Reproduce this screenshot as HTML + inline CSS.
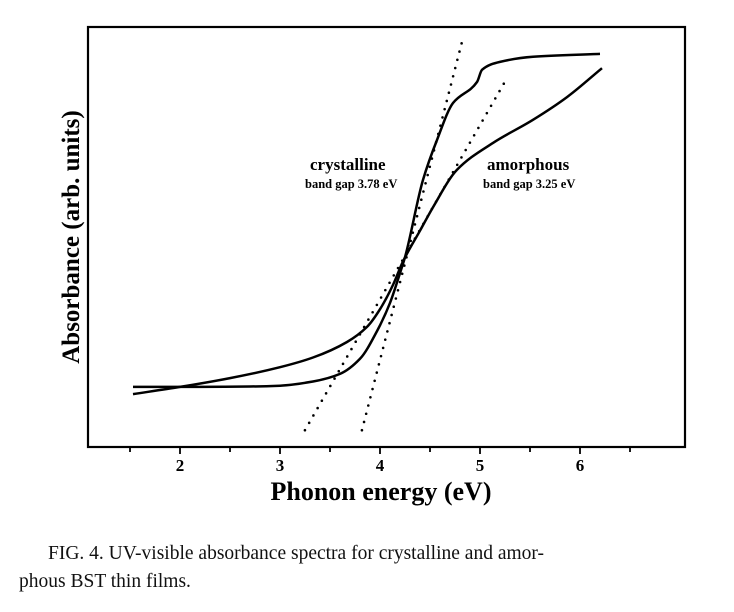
<!DOCTYPE html>
<html><head><meta charset="utf-8">
<style>
body{margin:0;background:#fff;width:734px;height:612px;overflow:hidden;}
svg{display:block}
.cap{position:absolute;font-family:"Liberation Serif",serif;font-size:19.5px;color:#111;}
</style></head>
<body>
<svg id="chart" width="734" height="612" viewBox="0 0 734 612" xmlns="http://www.w3.org/2000/svg">
<rect x="88" y="27" width="597" height="420" fill="none" stroke="#000" stroke-width="2.2"/>
<g id="ticks"></g>
<g id="series"></g>
<text transform="translate(79,237) rotate(-90)" text-anchor="middle" font-family="Liberation Serif,serif" font-weight="bold" font-size="25">Absorbance (arb. units)</text>
<text x="381" y="500" text-anchor="middle" font-family="Liberation Serif,serif" font-weight="bold" font-size="26">Phonon energy (eV)</text>
<text x="310" y="170" font-family="Liberation Serif,serif" font-weight="bold" font-size="17">crystalline</text>
<text x="305" y="188" font-family="Liberation Serif,serif" font-weight="bold" font-size="12.5">band gap 3.78 eV</text>
<text x="487" y="170" font-family="Liberation Serif,serif" font-weight="bold" font-size="17">amorphous</text>
<text x="483" y="188" font-family="Liberation Serif,serif" font-weight="bold" font-size="12.5">band gap 3.25 eV</text>
</svg>
<div class="cap" style="left:48px;top:543px;">FIG. 4. UV-visible absorbance spectra for crystalline and amor-</div>
<div class="cap" style="left:19px;top:571px;">phous BST thin films.</div>
<script>
const tickValues=[1.5,2,2.5,3,3.5,4,4.5,5,5.5,6,6.5];
const tickLabels=["2","3","4","5","6"];
const crystX=[1.53,2.2,2.7,3.0,3.33,3.6,3.8,3.97,4.1,4.2,4.25,4.43,4.57,4.73,4.97,5.02,5.2,5.53,6.2];
const crystY=[14.3,14.3,14.4,14.6,15.6,17.4,21.0,27.6,34.3,41.4,45.2,63.6,73.1,81.9,86.9,89.8,91.7,92.9,93.6];
const amorX=[1.53,2.0,2.5,3.0,3.33,3.67,3.87,4.0,4.13,4.23,4.4,4.53,4.77,5.13,5.53,5.87,6.22];
const amorY=[12.6,14.3,16.4,19,21.3,25.0,28.6,32.8,38.6,44.2,51.5,57.1,66,72.4,77.9,83.3,90.2];
const crystFitX=[3.776,4.83];
const crystFitY=[0,97.4];
const amorFitX=[3.153,5.24];
const amorFitY=[0,86.6];
const NS="http://www.w3.org/2000/svg";
function sx(v){return 180+(v-2)*100;}
function sy(v){return 447-v*4.2;}
const tg=document.getElementById('ticks');
tickValues.forEach(v=>{
  const l=document.createElementNS(NS,'line');
  
  
  const major=Number.isInteger(v);
  l.setAttribute('x1',sx(v));l.setAttribute('x2',sx(v));
  l.setAttribute('y1',447);l.setAttribute('y2',447+(major?7:5));
  l.setAttribute('stroke','#000');l.setAttribute('stroke-width','1.8');
  tg.appendChild(l);
});
tickLabels.forEach(s=>{
  const t=document.createElementNS(NS,'text');
  
  
  t.setAttribute('x',sx(parseFloat(s)));t.setAttribute('y',471);
  t.setAttribute('text-anchor','middle');t.setAttribute('font-family','Liberation Serif,serif');
  t.setAttribute('font-weight','bold');t.setAttribute('font-size','17');
  t.textContent=s;tg.appendChild(t);
});
// monotone cubic (Fritsch-Carlson) in pixel space
function smooth(xs,ys){
  const X=xs.map(sx),Y=ys.map(sy),n=X.length;
  const d=[],m=[];
  for(let i=0;i<n-1;i++)d.push((Y[i+1]-Y[i])/(X[i+1]-X[i]));
  m[0]=d[0];m[n-1]=d[n-2];
  for(let i=1;i<n-1;i++){
    if(d[i-1]*d[i]<=0)m[i]=0;
    else{const h0=X[i]-X[i-1],h1=X[i+1]-X[i];const w1=2*h1+h0,w2=h1+2*h0;m[i]=(w1+w2)/(w1/d[i-1]+w2/d[i]);}
  }
  let p='M'+X[0].toFixed(1)+','+Y[0].toFixed(1);
  for(let i=0;i<n-1;i++){
    const h=(X[i+1]-X[i])/3;
    p+=' C'+(X[i]+h).toFixed(1)+','+(Y[i]+m[i]*h).toFixed(1)+' '+(X[i+1]-h).toFixed(1)+','+(Y[i+1]-m[i+1]*h).toFixed(1)+' '+X[i+1].toFixed(1)+','+Y[i+1].toFixed(1);
  }
  return p;
}
const sg=document.getElementById('series');
function addPath(d,name,dotted){
  const e=document.createElementNS(NS,'path');
  
  
  e.setAttribute('d',d);e.setAttribute('fill','none');e.setAttribute('stroke','#000');
  if(dotted){e.setAttribute('stroke-width','2.6');e.setAttribute('stroke-dasharray','0 8.5');e.setAttribute('stroke-linecap','round');}
  else{e.setAttribute('stroke-width','2.5');e.setAttribute('stroke-linejoin','round');}
  sg.appendChild(e);
}
function lineD(xs,ys){
  const x1=xs[0]+(xs[1]-xs[0])*(4/(ys[1]-ys[0]));
  return 'M'+sx(x1)+','+sy(4)+' L'+sx(xs[1])+','+sy(ys[1]);
}
addPath(lineD(crystFitX,crystFitY),'crystalline-tangent',true);
addPath(lineD(amorFitX,amorFitY),'amorphous-tangent',true);
addPath(smooth(crystX,crystY),'crystalline-curve',false);
addPath(smooth(amorX,amorY),'amorphous-curve',false);
</script>
</body></html>
